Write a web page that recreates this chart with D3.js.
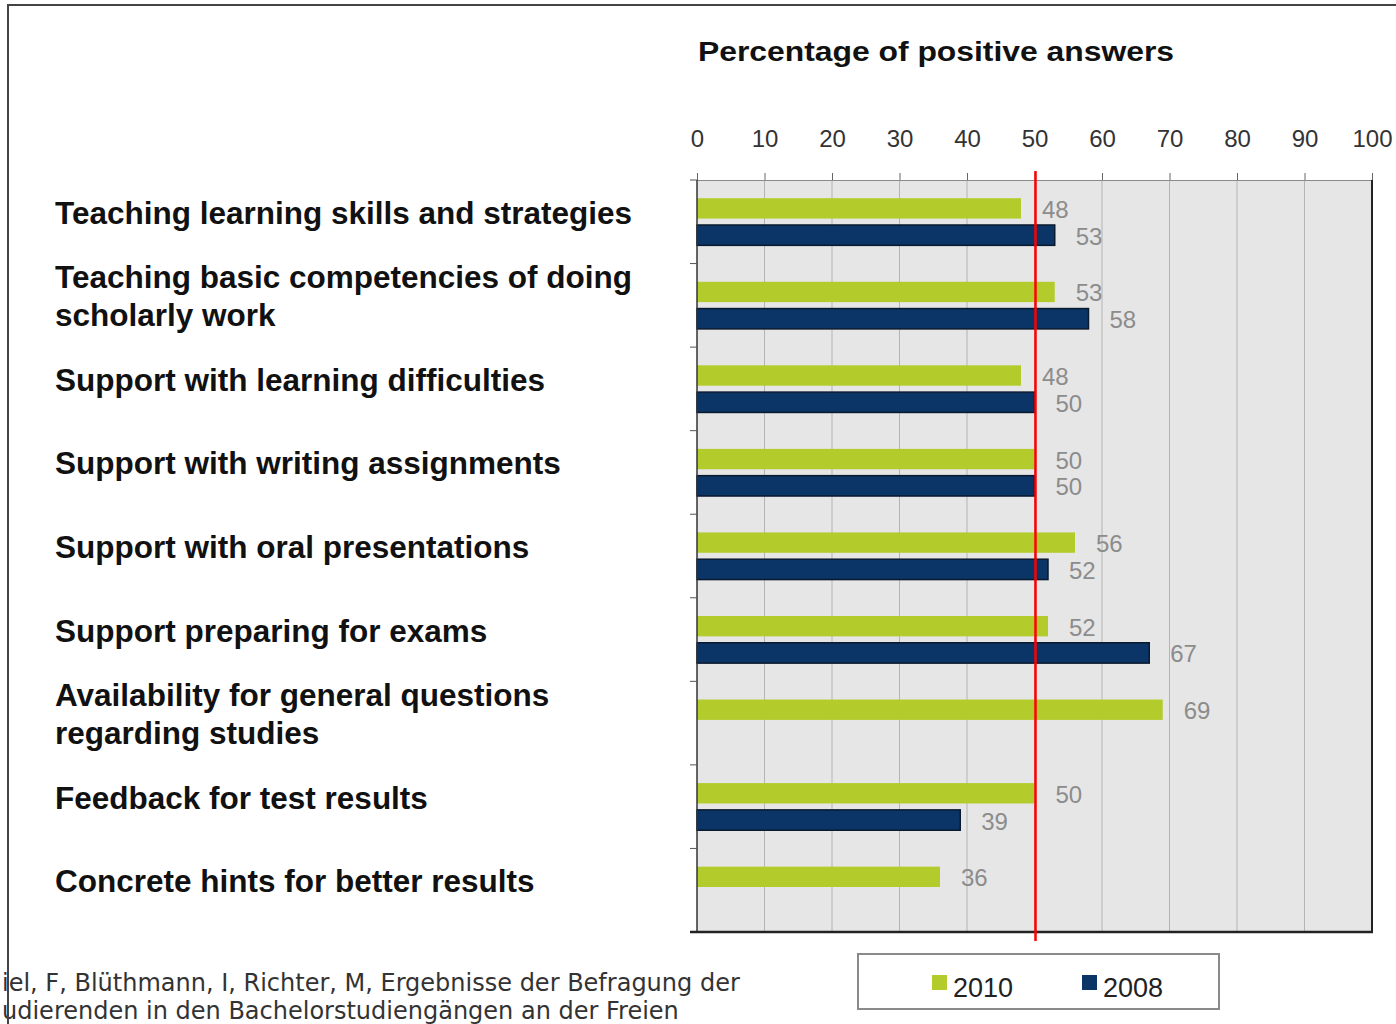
<!DOCTYPE html>
<html>
<head>
<meta charset="utf-8">
<script src="https://cdn.jsdelivr.net/npm/d3@7"></script>
<style>
  body { margin: 0; background: #fff; }
  svg { display: block; }
  .cat { font-family: "Liberation Sans", Arial, sans-serif; font-weight: bold; font-size: 31.5px; fill: #111; }
  .tick-label { font-family: "Liberation Sans", Arial, sans-serif; font-size: 24px; fill: #333; }
  .value { font-family: "Liberation Sans", Arial, sans-serif; font-size: 24px; fill: #8c8c8c; }
  .legend text { font-family: "Liberation Sans", Arial, sans-serif; font-size: 27px; fill: #222; }
  .source { font-family: "DejaVu Sans", Verdana, sans-serif; font-size: 24px; fill: #333; }
</style>
</head>
<body>
<svg id="chart" width="1396" height="1024"></svg>
<script>
// survey items, top to bottom (line breaks as in the original slide)
const categories = [
  ['Teaching learning skills and strategies'],
  ['Teaching basic competencies of doing', 'scholarly work'],
  ['Support with learning difficulties'],
  ['Support with writing assignments'],
  ['Support with oral presentations'],
  ['Support preparing for exams'],
  ['Availability for general questions', 'regarding studies'],
  ['Feedback for test results'],
  ['Concrete hints for better results']
];

const years = ['2010', '2008'];
const values2010 = [48, 53, 48, 50, 56, 52, 69, 50, 36];
const values2008 = [53, 58, 50, 50, 52, 67, null, 39, null];
const xTicks = [0, 10, 20, 30, 40, 50, 60, 70, 80, 90, 100];
const threshold = 50;

// source note, only the part visible on the cropped slide
const sourceLines = [
  'iel, F, Blüthmann, I, Richter, M, Ergebnisse der Befragung der',
  'udierenden in den Bachelorstudiengängen an der Freien'
];

const colors = { '2010': '#b3cc2b', '2008': '#0b3566' };

const svg = d3.select('#chart');
const plot = { left: 697, right: 1372, top: 180, bottom: 932 };

const x = d3.scaleLinear().domain([0, 100]).range([plot.left, plot.right]);
const y = d3.scaleBand().domain(d3.range(categories.length)).range([plot.top, plot.bottom]);
const ySub = d3.scaleBand().domain(years)
  .range([0, y.bandwidth()])
  .paddingInner(0.24)
  .paddingOuter(0.68);

const rows = categories.map((c, i) => ({ i, lines: c, '2010': values2010[i], '2008': values2008[i] }));

// plot background
svg.append('rect')
  .attr('x', plot.left).attr('y', plot.top)
  .attr('width', plot.right - plot.left).attr('height', plot.bottom - plot.top)
  .attr('fill', '#e6e6e6');

// vertical grid
svg.append('g').selectAll('line')
  .data(xTicks.slice(1, -1))
  .join('line')
  .attr('x1', d => x(d)).attr('x2', d => x(d))
  .attr('y1', plot.top).attr('y2', plot.bottom)
  .attr('stroke', '#b4b4b4').attr('stroke-width', 1);

// top axis (ticks pointing up, labels above)
const xAxis = d3.axisTop(x).tickValues(xTicks).tickSize(7).tickPadding(26).tickFormat(d3.format('d'));
svg.append('g')
  .attr('transform', `translate(0,${plot.top})`)
  .call(xAxis)
  .call(g => g.select('.domain').attr('stroke', '#8a8a8a'))
  .call(g => g.selectAll('.tick line').attr('stroke', '#666'))
  .call(g => g.selectAll('.tick text').attr('class', 'tick-label').attr('font-size', null).attr('font-family', null).attr('fill', null));

// bars
const groups = svg.append('g').selectAll('g')
  .data(rows)
  .join('g')
  .attr('transform', d => `translate(0,${y(d.i)})`);

groups.selectAll('rect')
  .data(d => years.filter(k => d[k] != null).map(k => ({ key: k, value: d[k] })))
  .join('rect')
  .attr('x', x(0))
  .attr('y', d => ySub(d.key))
  .attr('width', d => x(d.value) - x(0))
  .attr('height', ySub.bandwidth())
  .attr('fill', d => colors[d.key])
  .attr('stroke', d => d.key === '2008' ? '#0a1a2e' : 'none')
  .attr('stroke-width', 1.5);

groups.selectAll('text')
  .data(d => years.filter(k => d[k] != null).map(k => ({ key: k, value: d[k] })))
  .join('text')
  .attr('class', 'value')
  .attr('x', d => x(d.value) + 21)
  .attr('y', d => ySub(d.key) + ySub.bandwidth() / 2 + 1)
  .attr('dominant-baseline', 'central')
  .text(d => d.value);

// left axis with ticks between categories
svg.append('line')
  .attr('x1', plot.left).attr('x2', plot.left)
  .attr('y1', plot.top).attr('y2', plot.bottom)
  .attr('stroke', '#333').attr('stroke-width', 1.5);
svg.append('g').selectAll('line')
  .data(d3.range(categories.length + 1))
  .join('line')
  .attr('x1', plot.left - 7).attr('x2', plot.left)
  .attr('y1', d => plot.top + d * y.step()).attr('y2', d => plot.top + d * y.step())
  .attr('stroke', '#555');

// right and bottom borders
svg.append('line')
  .attr('x1', plot.right).attr('x2', plot.right)
  .attr('y1', plot.top).attr('y2', plot.bottom)
  .attr('stroke', '#222').attr('stroke-width', 2);
svg.append('line')
  .attr('x1', plot.left - 7).attr('x2', plot.right + 1)
  .attr('y1', plot.bottom).attr('y2', plot.bottom)
  .attr('stroke', '#222').attr('stroke-width', 2.5);

// 50% reference line
svg.append('line')
  .attr('x1', x(threshold) + 1).attr('x2', x(threshold) + 1)
  .attr('y1', plot.top - 9).attr('y2', plot.bottom + 9)
  .attr('stroke', '#ff0000').attr('stroke-width', 2.5);

// category labels
const labels = svg.append('g').selectAll('text')
  .data(rows)
  .join('text')
  .attr('class', 'cat')
  .attr('x', 55)
  .attr('y', d => y(d.i) + y.bandwidth() / 2 - 9 - (d.lines.length - 1) * 19)
  .attr('dominant-baseline', 'central');
labels.selectAll('tspan')
  .data(d => d.lines)
  .join('tspan')
  .attr('x', 55)
  .attr('dy', (d, j) => j === 0 ? 0 : 38)
  .text(d => d);

// title
svg.append('text')
  .attr('x', 698).attr('y', 61)
  .attr('font-family', '"Liberation Sans", Arial, sans-serif')
  .attr('font-weight', 'bold')
  .attr('font-size', 27)
  .attr('textLength', 476)
  .attr('lengthAdjust', 'spacingAndGlyphs')
  .attr('fill', '#111')
  .text('Percentage of positive answers');

// legend
const legend = svg.append('g').attr('class', 'legend');
legend.append('rect')
  .attr('x', 858).attr('y', 954).attr('width', 361).attr('height', 55)
  .attr('fill', '#fff').attr('stroke', '#8a8a8a').attr('stroke-width', 2);
const items = legend.selectAll('g.item')
  .data(years)
  .join('g')
  .attr('class', 'item')
  .attr('transform', (d, i) => `translate(${932 + i * 150},975)`);
items.append('rect')
  .attr('width', 15).attr('height', 15)
  .attr('fill', d => colors[d]);
items.append('text')
  .attr('x', 21).attr('y', 22)
  .text(d => d);

// source note
svg.append('g').selectAll('text')
  .data(sourceLines)
  .join('text')
  .attr('class', 'source')
  .attr('x', 2)
  .attr('y', (d, i) => 991 + i * 28)
  .text(d => d);

// outer frame
svg.append('path')
  .attr('d', 'M8,1024V5H1396')
  .attr('fill', 'none')
  .attr('stroke', '#444')
  .attr('stroke-width', 2);
</script>
</body>
</html>
